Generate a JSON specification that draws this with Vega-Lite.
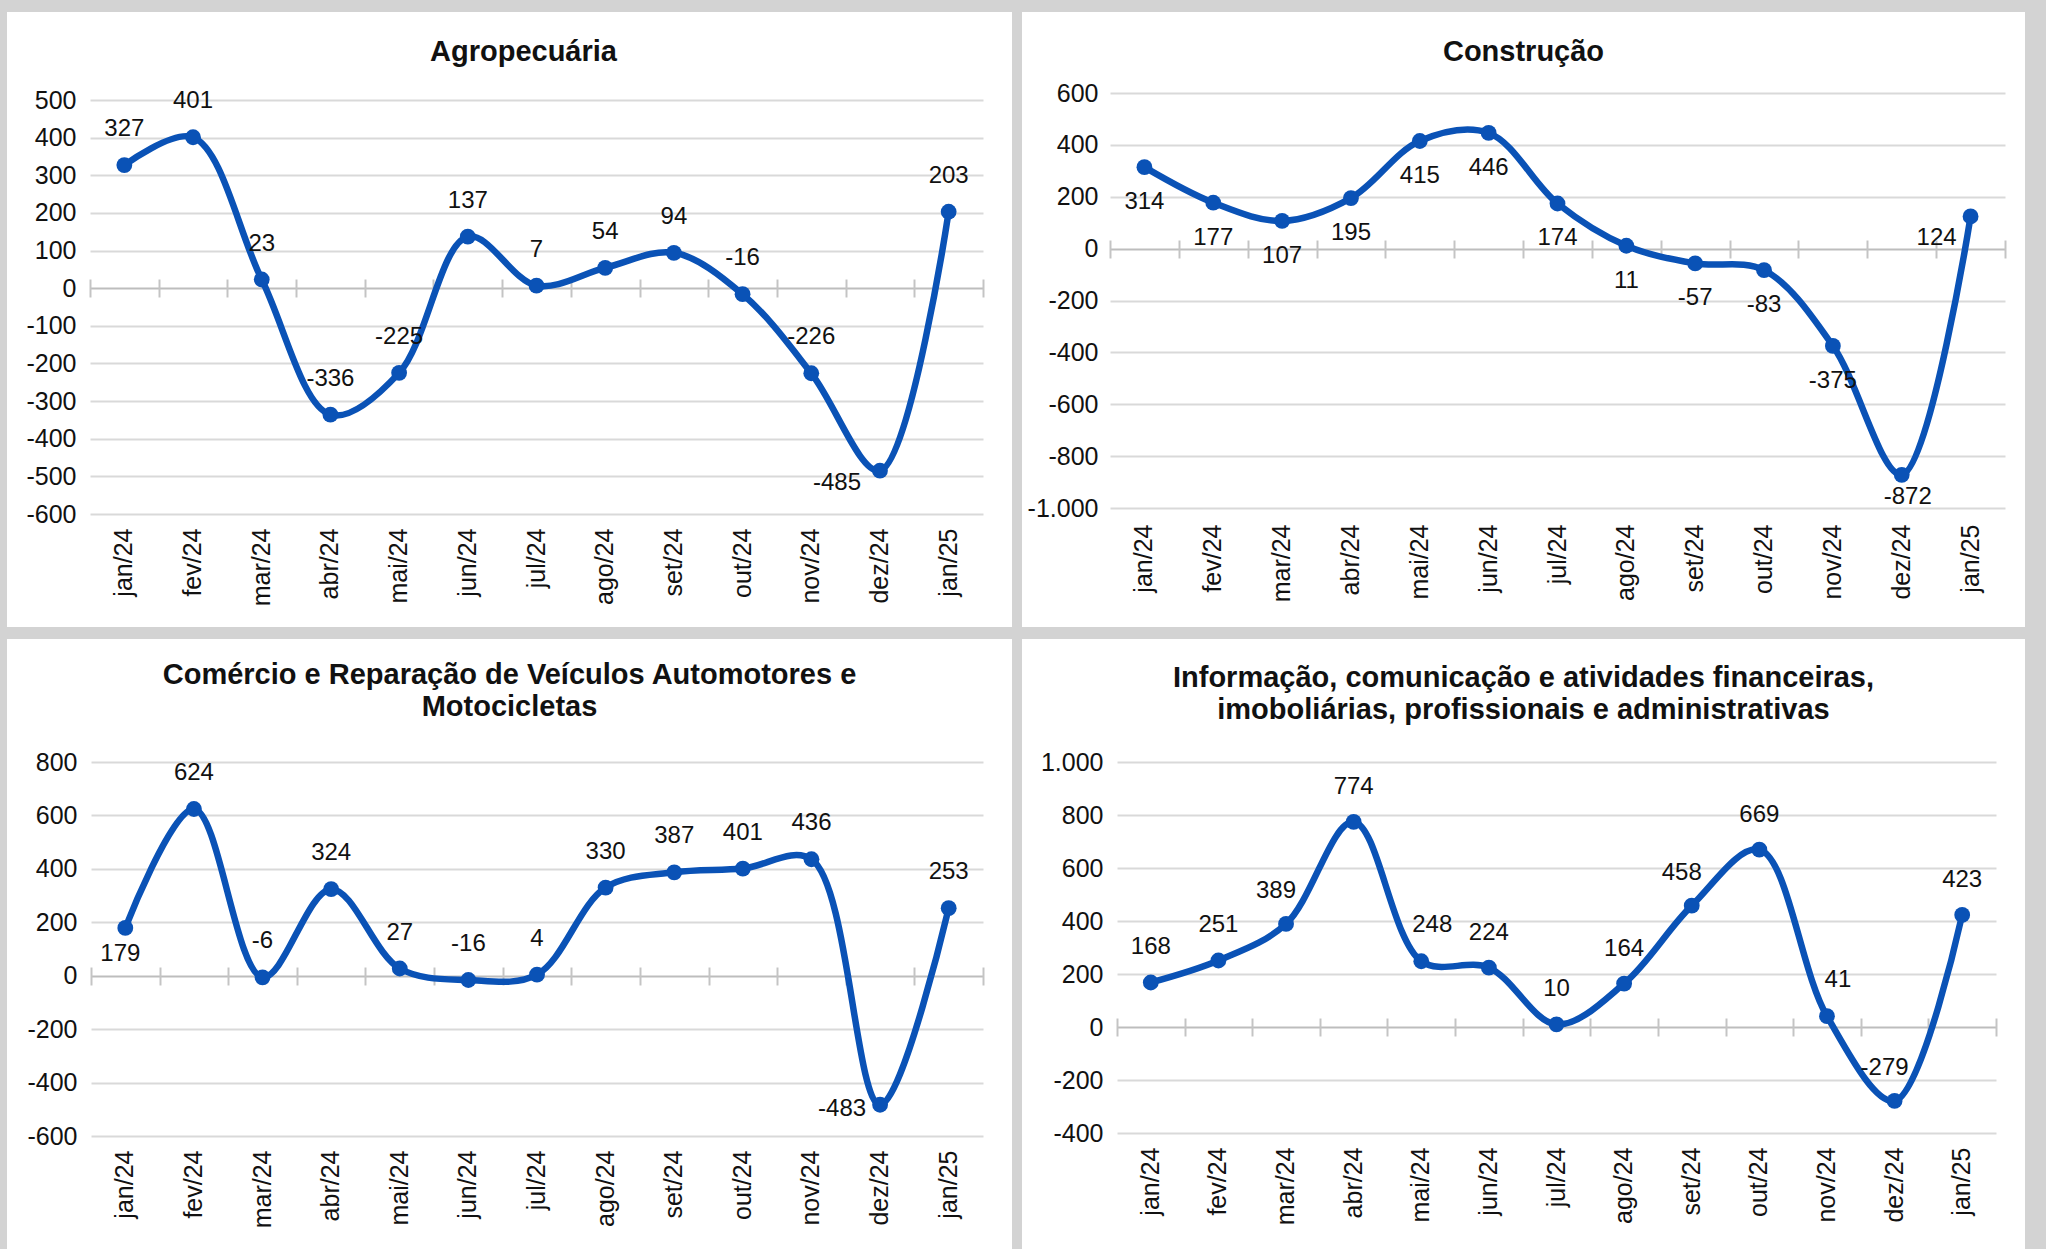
{
  "$schema": "https://vega.github.io/schema/vega-lite/v6.json",
  "background": "#d3d3d3",
  "padding": {"left": 7, "top": 12, "right": 21, "bottom": 0},
  "config": {
    "font": "Liberation Sans",
    "view": {"stroke": null},
    "axis": {"labelFont": "Liberation Sans", "labelFontSize": 25, "labelColor": "#111111", "gridColor": "#d9d9d9", "gridWidth": 2},
    "title": {"font": "Liberation Sans", "fontSize": 29, "fontWeight": "bold", "color": "#111111", "anchor": "middle", "frame": "group", "lineHeight": 32},
    "text": {"font": "Liberation Sans", "fontSize": 24, "color": "#111111"},
    "locale": {"number": {"decimal": ",", "thousands": ".", "grouping": [3], "currency": ["R$", ""], "minus": "-"}}
  },
  "datasets": {
    "agro": [
      {"mes": "jan/24", "v": 327}, {"mes": "fev/24", "v": 401}, {"mes": "mar/24", "v": 23}, {"mes": "abr/24", "v": -336},
      {"mes": "mai/24", "v": -225}, {"mes": "jun/24", "v": 137}, {"mes": "jul/24", "v": 7}, {"mes": "ago/24", "v": 54},
      {"mes": "set/24", "v": 94}, {"mes": "out/24", "v": -16}, {"mes": "nov/24", "v": -226}, {"mes": "dez/24", "v": -485},
      {"mes": "jan/25", "v": 203}
    ],
    "constr": [
      {"mes": "jan/24", "v": 314}, {"mes": "fev/24", "v": 177}, {"mes": "mar/24", "v": 107}, {"mes": "abr/24", "v": 195},
      {"mes": "mai/24", "v": 415}, {"mes": "jun/24", "v": 446}, {"mes": "jul/24", "v": 174}, {"mes": "ago/24", "v": 11},
      {"mes": "set/24", "v": -57}, {"mes": "out/24", "v": -83}, {"mes": "nov/24", "v": -375}, {"mes": "dez/24", "v": -872},
      {"mes": "jan/25", "v": 124}
    ],
    "com": [
      {"mes": "jan/24", "v": 179}, {"mes": "fev/24", "v": 624}, {"mes": "mar/24", "v": -6}, {"mes": "abr/24", "v": 324},
      {"mes": "mai/24", "v": 27}, {"mes": "jun/24", "v": -16}, {"mes": "jul/24", "v": 4}, {"mes": "ago/24", "v": 330},
      {"mes": "set/24", "v": 387}, {"mes": "out/24", "v": 401}, {"mes": "nov/24", "v": 436}, {"mes": "dez/24", "v": -483},
      {"mes": "jan/25", "v": 253}
    ],
    "info": [
      {"mes": "jan/24", "v": 168}, {"mes": "fev/24", "v": 251}, {"mes": "mar/24", "v": 389}, {"mes": "abr/24", "v": 774},
      {"mes": "mai/24", "v": 248}, {"mes": "jun/24", "v": 224}, {"mes": "jul/24", "v": 10}, {"mes": "ago/24", "v": 164},
      {"mes": "set/24", "v": 458}, {"mes": "out/24", "v": 669}, {"mes": "nov/24", "v": 41}, {"mes": "dez/24", "v": -279},
      {"mes": "jan/25", "v": 423}
    ]
  },
  "spacing": 12,
  "vconcat": [
    {
      "spacing": 10,
      "hconcat": [
        {
          "width": 1005, "height": 615,
          "view": {"fill": "white", "stroke": null},
          "title": {"text": "Agropecuária", "offset": -55, "dx": 14},
          "data": {"name": "agro"},
          "resolve": {"axis": {"x": "independent"}},
          "encoding": {
            "y": {"field": "v", "type": "quantitative",
              "scale": {"domain": [-600, 500], "range": [502, 88], "nice": false, "zero": false},
              "axis": {"values": [-600,-500,-400,-300,-200,-100,0,100,200,300,400,500], "format": ",d", "grid": true, "gridColor": {"condition": {"test": "datum.value === 0", "value": "#bdbdbd"}, "value": "#d9d9d9"}, "ticks": false, "tickSize": 0, "domain": false, "labelPadding": 14, "offset": -83, "title": null}}
          },
          "layer": [
            {
              "mark": {"type": "line", "interpolate": "catmull-rom", "strokeWidth": 6.5, "color": "#0a52b6"},
              "encoding": {
                "x": {"field": "mes", "type": "ordinal", "sort": null,
                  "scale": {"type": "band", "domain": ["jan/24","fev/24","mar/24","abr/24","mai/24","jun/24","jul/24","ago/24","set/24","out/24","nov/24","dez/24","jan/25"], "range": [83, 976], "paddingInner": 0, "paddingOuter": 0},
                  "axis": {"orient": "bottom", "offset": -113, "title": null, "labelAngle": -90, "labelPadding": 14, "ticks": false, "tickSize": 0, "domain": false, "grid": false}}
              }
            },
            {
              "mark": {"type": "point", "filled": true, "size": 250, "opacity": 1, "color": "#0a52b6"},
              "encoding": {
                "x": {"field": "mes", "type": "ordinal", "sort": null,
                  "axis": {"orient": "bottom", "offset": -348, "title": null, "labels": false, "grid": false, "domain": false, "ticks": true, "tickBand": "extent", "tickSize": 18, "tickColor": "#c4c4c4", "tickWidth": 2}}
              }
            },
            {
              "transform": [{"filter": {"not": {"field": "mes", "equal": "dez/24"}}}],
              "mark": {"type": "text", "dy": -36},
              "encoding": {
                "x": {"field": "mes", "type": "ordinal", "sort": null, "axis": null},
                "text": {"field": "v", "type": "quantitative", "format": ",d"}
              }
            },
            {
              "transform": [{"filter": {"field": "mes", "equal": "dez/24"}}],
              "mark": {"type": "text", "dx": -43, "dy": 12},
              "encoding": {
                "x": {"field": "mes", "type": "ordinal", "sort": null, "axis": null},
                "text": {"field": "v", "type": "quantitative", "format": ",d"}
              }
            }
          ]
        },
        {
          "width": 1003, "height": 615,
          "view": {"fill": "white", "stroke": null},
          "title": {"text": "Construção", "offset": -55},
          "data": {"name": "constr"},
          "resolve": {"axis": {"x": "independent"}},
          "encoding": {
            "y": {"field": "v", "type": "quantitative",
              "scale": {"domain": [-1000, 600], "range": [496, 81], "nice": false, "zero": false},
              "axis": {"values": [-1000,-800,-600,-400,-200,0,200,400,600], "format": ",d", "grid": true, "gridColor": {"condition": {"test": "datum.value === 0", "value": "#bdbdbd"}, "value": "#d9d9d9"}, "ticks": false, "tickSize": 0, "domain": false, "labelPadding": 12, "offset": -88, "title": null}}
          },
          "layer": [
            {
              "mark": {"type": "line", "interpolate": "catmull-rom", "strokeWidth": 6.5, "color": "#0a52b6"},
              "encoding": {
                "x": {"field": "mes", "type": "ordinal", "sort": null,
                  "scale": {"type": "band", "domain": ["jan/24","fev/24","mar/24","abr/24","mai/24","jun/24","jul/24","ago/24","set/24","out/24","nov/24","dez/24","jan/25"], "range": [88, 983], "paddingInner": 0, "paddingOuter": 0},
                  "axis": {"orient": "bottom", "offset": -119, "title": null, "labelAngle": -90, "labelPadding": 16, "ticks": false, "tickSize": 0, "domain": false, "grid": false}}
              }
            },
            {
              "mark": {"type": "point", "filled": true, "size": 250, "opacity": 1, "color": "#0a52b6"},
              "encoding": {
                "x": {"field": "mes", "type": "ordinal", "sort": null,
                  "axis": {"orient": "bottom", "offset": -387, "title": null, "labels": false, "grid": false, "domain": false, "ticks": true, "tickBand": "extent", "tickSize": 18, "tickColor": "#c4c4c4", "tickWidth": 2}}
              }
            },
            {
              "transform": [{"filter": {"not": {"field": "mes", "oneOf": ["dez/24", "jan/25"]}}}],
              "mark": {"type": "text", "dy": 35},
              "encoding": {
                "x": {"field": "mes", "type": "ordinal", "sort": null, "axis": null},
                "text": {"field": "v", "type": "quantitative", "format": ",d"}
              }
            },
            {
              "transform": [{"filter": {"field": "mes", "equal": "dez/24"}}],
              "mark": {"type": "text", "dx": 6, "dy": 22},
              "encoding": {
                "x": {"field": "mes", "type": "ordinal", "sort": null, "axis": null},
                "text": {"field": "v", "type": "quantitative", "format": ",d"}
              }
            },
            {
              "transform": [{"filter": {"field": "mes", "equal": "jan/25"}}],
              "mark": {"type": "text", "dx": -34, "dy": 22},
              "encoding": {
                "x": {"field": "mes", "type": "ordinal", "sort": null, "axis": null},
                "text": {"field": "v", "type": "quantitative", "format": ",d"}
              }
            }
          ]
        }
      ]
    },
    {
      "spacing": 10,
      "hconcat": [
        {
          "width": 1005, "height": 610,
          "view": {"fill": "white", "stroke": null},
          "title": {"text": ["Comércio e Reparação de Veículos Automotores e", "Motocicletas"], "offset": -83},
          "data": {"name": "com"},
          "resolve": {"axis": {"x": "independent"}},
          "encoding": {
            "y": {"field": "v", "type": "quantitative",
              "scale": {"domain": [-600, 800], "range": [497, 123], "nice": false, "zero": false},
              "axis": {"values": [-600,-400,-200,0,200,400,600,800], "format": ",d", "grid": true, "gridColor": {"condition": {"test": "datum.value === 0", "value": "#bdbdbd"}, "value": "#d9d9d9"}, "ticks": false, "tickSize": 0, "domain": false, "labelPadding": 14, "offset": -84, "title": null}}
          },
          "layer": [
            {
              "mark": {"type": "line", "interpolate": "catmull-rom", "strokeWidth": 6.5, "color": "#0a52b6"},
              "encoding": {
                "x": {"field": "mes", "type": "ordinal", "sort": null,
                  "scale": {"type": "band", "domain": ["jan/24","fev/24","mar/24","abr/24","mai/24","jun/24","jul/24","ago/24","set/24","out/24","nov/24","dez/24","jan/25"], "range": [84, 976], "paddingInner": 0, "paddingOuter": 0},
                  "axis": {"orient": "bottom", "offset": -113, "title": null, "labelAngle": -90, "labelPadding": 14, "ticks": false, "tickSize": 0, "domain": false, "grid": false}}
              }
            },
            {
              "mark": {"type": "point", "filled": true, "size": 250, "opacity": 1, "color": "#0a52b6"},
              "encoding": {
                "x": {"field": "mes", "type": "ordinal", "sort": null,
                  "axis": {"orient": "bottom", "offset": -282, "title": null, "labels": false, "grid": false, "domain": false, "ticks": true, "tickBand": "extent", "tickSize": 18, "tickColor": "#c4c4c4", "tickWidth": 2}}
              }
            },
            {
              "transform": [{"filter": {"not": {"field": "mes", "oneOf": ["jan/24", "dez/24"]}}}],
              "mark": {"type": "text", "dy": -36},
              "encoding": {
                "x": {"field": "mes", "type": "ordinal", "sort": null, "axis": null},
                "text": {"field": "v", "type": "quantitative", "format": ",d"}
              }
            },
            {
              "transform": [{"filter": {"field": "mes", "equal": "jan/24"}}],
              "mark": {"type": "text", "dx": -5, "dy": 26},
              "encoding": {
                "x": {"field": "mes", "type": "ordinal", "sort": null, "axis": null},
                "text": {"field": "v", "type": "quantitative", "format": ",d"}
              }
            },
            {
              "transform": [{"filter": {"field": "mes", "equal": "dez/24"}}],
              "mark": {"type": "text", "dx": -38, "dy": 4},
              "encoding": {
                "x": {"field": "mes", "type": "ordinal", "sort": null, "axis": null},
                "text": {"field": "v", "type": "quantitative", "format": ",d"}
              }
            }
          ]
        },
        {
          "width": 1003, "height": 610,
          "view": {"fill": "white", "stroke": null},
          "title": {"text": ["Informação, comunicação e atividades financeiras,", "imoboliárias, profissionais e administrativas"], "offset": -86},
          "data": {"name": "info"},
          "resolve": {"axis": {"x": "independent"}},
          "encoding": {
            "y": {"field": "v", "type": "quantitative",
              "scale": {"domain": [-400, 1000], "range": [494, 123], "nice": false, "zero": false},
              "axis": {"values": [-400,-200,0,200,400,600,800,1000], "format": ",d", "grid": true, "gridColor": {"condition": {"test": "datum.value === 0", "value": "#bdbdbd"}, "value": "#d9d9d9"}, "ticks": false, "tickSize": 0, "domain": false, "labelPadding": 14, "offset": -95, "title": null}}
          },
          "layer": [
            {
              "mark": {"type": "line", "interpolate": "catmull-rom", "strokeWidth": 6.5, "color": "#0a52b6"},
              "encoding": {
                "x": {"field": "mes", "type": "ordinal", "sort": null,
                  "scale": {"type": "band", "domain": ["jan/24","fev/24","mar/24","abr/24","mai/24","jun/24","jul/24","ago/24","set/24","out/24","nov/24","dez/24","jan/25"], "range": [95, 974], "paddingInner": 0, "paddingOuter": 0},
                  "axis": {"orient": "bottom", "offset": -116, "title": null, "labelAngle": -90, "labelPadding": 14, "ticks": false, "tickSize": 0, "domain": false, "grid": false}}
              }
            },
            {
              "mark": {"type": "point", "filled": true, "size": 250, "opacity": 1, "color": "#0a52b6"},
              "encoding": {
                "x": {"field": "mes", "type": "ordinal", "sort": null,
                  "axis": {"orient": "bottom", "offset": -231, "title": null, "labels": false, "grid": false, "domain": false, "ticks": true, "tickBand": "extent", "tickSize": 18, "tickColor": "#c4c4c4", "tickWidth": 2}}
              }
            },
            {
              "transform": [{"filter": {"not": {"field": "mes", "oneOf": ["mar/24", "set/24", "dez/24", "mai/24", "nov/24"]}}}],
              "mark": {"type": "text", "dy": -35},
              "encoding": {
                "x": {"field": "mes", "type": "ordinal", "sort": null, "axis": null},
                "text": {"field": "v", "type": "quantitative", "format": ",d"}
              }
            },
            {
              "transform": [{"filter": {"field": "mes", "oneOf": ["mar/24", "set/24", "dez/24"]}}],
              "mark": {"type": "text", "dx": -10, "dy": -33},
              "encoding": {
                "x": {"field": "mes", "type": "ordinal", "sort": null, "axis": null},
                "text": {"field": "v", "type": "quantitative", "format": ",d"}
              }
            },
            {
              "transform": [{"filter": {"field": "mes", "oneOf": ["mai/24", "nov/24"]}}],
              "mark": {"type": "text", "dx": 11, "dy": -36},
              "encoding": {
                "x": {"field": "mes", "type": "ordinal", "sort": null, "axis": null},
                "text": {"field": "v", "type": "quantitative", "format": ",d"}
              }
            }
          ]
        }
      ]
    }
  ]
}
